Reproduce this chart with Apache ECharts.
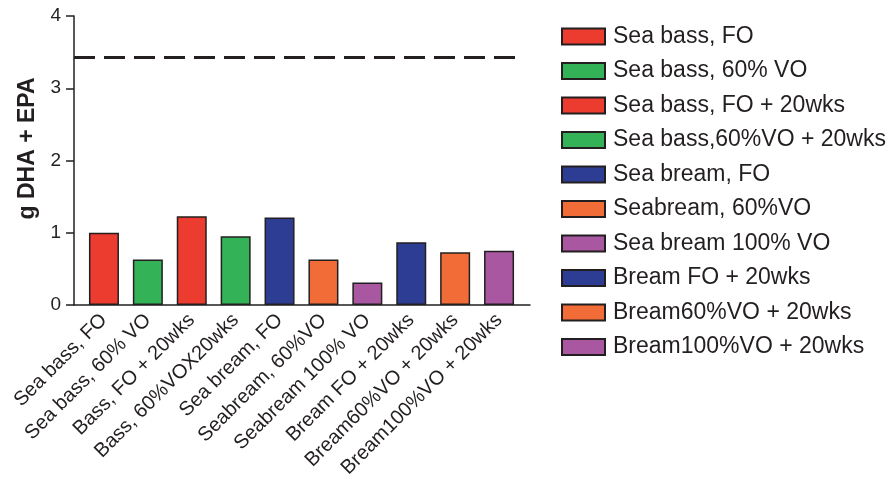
<!DOCTYPE html>
<html>
<head>
<meta charset="utf-8">
<script src="https://cdn.jsdelivr.net/npm/echarts@6/dist/echarts.min.js"></script>
<style>
  html, body { margin: 0; padding: 0; background: #ffffff; }
  #chart { width: 891px; height: 483px; }
</style>
</head>
<body>
<div id="chart"></div>
<script>
// Category labels along the x axis
var categories = [
  'Sea bass, FO', 'Sea bass, 60% VO', 'Bass, FO + 20wks', 'Bass, 60%VOX20wks',
  'Sea bream, FO', 'Seabream, 60%VO', 'Seabream 100% VO', 'Bream FO + 20wks',
  'Bream60%VO + 20wks', 'Bream100%VO + 20wks'
];
// Legend entries, one per bar
var seriesNames = [
  'Sea bass, FO', 'Sea bass, 60% VO', 'Sea bass, FO + 20wks', 'Sea bass,60%VO + 20wks',
  'Sea bream, FO', 'Seabream, 60%VO', 'Sea bream 100% VO', 'Bream FO + 20wks',
  'Bream60%VO + 20wks', 'Bream100%VO + 20wks'
];
// g DHA + EPA per portion
var values = [1.00, 0.63, 1.23, 0.95, 1.21, 0.63, 0.31, 0.87, 0.73, 0.75];
var barColors = ['#ec3b2f', '#33b257', '#ec3b2f', '#33b257', '#2e3d94',
                 '#f16c37', '#a957a1', '#2e3d94', '#f16c37', '#a957a1'];
// Recommended intake reference level
var refLine = 3.43;
var yTicks = [0, 1, 2, 3, 4];

var ink = '#231f20';
var font = "'Liberation Sans', Arial, Helvetica, sans-serif";

var series = seriesNames.map(function (name, i) {
  return {
    name: name,
    type: 'bar',
    stack: 'all',
    xAxisIndex: 0,
    yAxisIndex: 0,
    barWidth: 30,
    itemStyle: { color: barColors[i], borderColor: ink, borderWidth: 1.5 },
    data: values.map(function (v, j) { return j === i ? v : '-'; })
  };
});

// Dashed reference level, drawn in its own overlay grid
series.push({
  name: 'ref',
  type: 'line',
  xAxisIndex: 2,
  yAxisIndex: 2,
  data: [],
  silent: true,
  markLine: {
    silent: true,
    symbol: 'none',
    label: { show: false },
    lineStyle: { color: ink, type: [21, 9], width: 3 },
    data: [{ yAxis: refLine }]
  }
});

var hiddenValueAxis = function (gridIndex, min, max) {
  return {
    type: 'value', gridIndex: gridIndex, min: min, max: max,
    axisLine: { show: false }, axisTick: { show: false },
    axisLabel: { show: false }, splitLine: { show: false }
  };
};

var chart = echarts.init(document.getElementById('chart'), null, { renderer: 'canvas' });
chart.setOption({
  animation: false,
  backgroundColor: '#ffffff',
  textStyle: { fontFamily: font, color: ink },
  grid: [
    { left: 82, width: 439, top: 16, bottom: 178 },  // bars
    { left: 74, width: 456, top: 16, bottom: 178 },  // baseline
    { left: 74, width: 449, top: 16, bottom: 178 }   // reference line
  ],
  xAxis: [
    {
      type: 'category',
      gridIndex: 0,
      data: categories,
      axisLine: { show: false },
      axisTick: { show: false },
      axisLabel: {
        interval: 0, rotate: 45, margin: 12,
        fontSize: 20, color: ink, fontFamily: font
      }
    },
    {
      type: 'value',
      gridIndex: 1,
      min: 0, max: 1,
      axisLine: { show: true, lineStyle: { color: ink, width: 1.5 } },
      axisTick: { show: false },
      axisLabel: { show: false },
      splitLine: { show: false }
    },
    hiddenValueAxis(2, 0, 1)
  ],
  yAxis: [
    {
      type: 'value',
      gridIndex: 0,
      min: yTicks[0], max: yTicks[yTicks.length - 1], interval: 1,
      offset: 8,
      name: 'g DHA + EPA',
      nameLocation: 'middle',
      nameGap: 35,
      nameTextStyle: {
        fontSize: 23, fontWeight: 'bold', color: ink, fontFamily: font,
        padding: [0, 0, 0, 24]
      },
      axisLine: { show: true, lineStyle: { color: ink, width: 1.5 } },
      axisTick: { show: true, length: 8, lineStyle: { color: ink, width: 1.5 } },
      axisLabel: { fontSize: 19, color: ink, margin: 13, fontFamily: font },
      splitLine: { show: false }
    },
    hiddenValueAxis(1, 0, 4),
    hiddenValueAxis(2, 0, 4)
  ],
  legend: {
    orient: 'vertical',
    left: 556,
    top: 20,
    icon: 'rect',
    itemWidth: 43,
    itemHeight: 16,
    itemGap: 11.5,
    data: seriesNames,
    textStyle: { fontSize: 23, color: ink, fontFamily: font, lineHeight: 23, padding: [0, 0, 0, 3] }
  },
  series: series
});
</script>
</body>
</html>
